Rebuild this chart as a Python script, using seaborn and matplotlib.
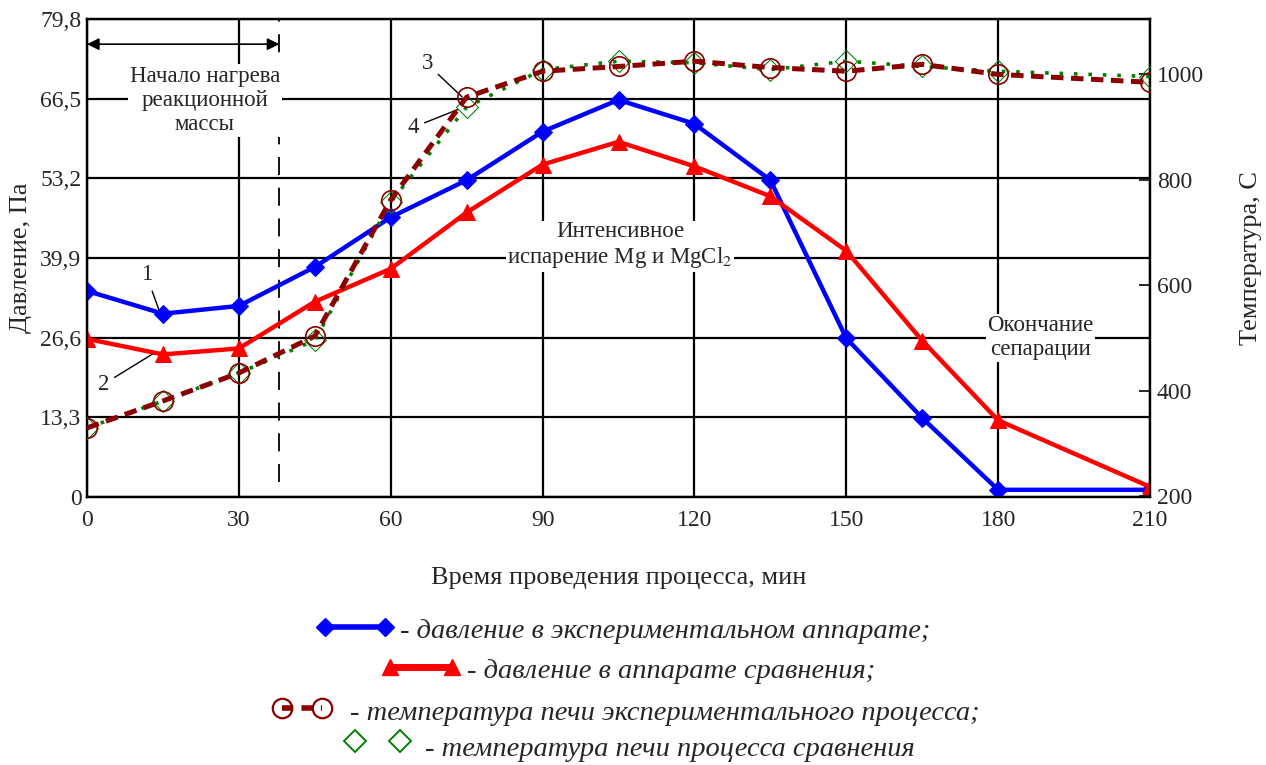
import matplotlib
matplotlib.use("Agg")
import matplotlib.pyplot as plt
import seaborn as sns
import pandas as pd

# время, мин
time = [0, 15, 30, 45, 60, 75, 90, 105, 120, 135, 150, 165, 180, 210]
# давление, Па
p_exp = [34.4, 30.6, 31.9, 38.4, 46.7, 52.9, 61.0, 66.3, 62.3, 52.9, 26.5, 13.2, 1.2, 1.2]
p_cmp = [26.4, 23.8, 24.8, 32.6, 38.1, 47.5, 55.5, 59.3, 55.2, 50.2, 41.1, 26.1, 12.8, 1.7]
# температура печи, C
t_exp = [330, 381, 434, 504, 762, 957, 1006, 1015, 1025, 1013, 1006, 1019, 1000, 985]
t_cmp = [330, 381, 434, 496, 758, 938, 1009, 1025, 1022, 1009, 1025, 1015, 1006, 996]

p_ticks = [0, 13.3, 26.6, 39.9, 53.2, 66.5, 79.8]
t_ticks = [200, 400, 600, 800, 1000]
x_ticks = [0, 30, 60, 90, 120, 150, 180, 210]
heat_end = 38

df = pd.DataFrame({"time": time, "p_exp": p_exp, "p_cmp": p_cmp,
                   "t_exp": t_exp, "t_cmp": t_cmp})

sns.set_style("white")
plt.rcParams["font.family"] = ["Liberation Serif", "DejaVu Serif"]
plt.rcParams["mathtext.fontset"] = "stix"

DARK = "#8b0000"
GREEN = "#008000"

fig = plt.figure(figsize=(12.66, 7.65), dpi=100)
ax = fig.add_axes([87 / 1266, 1 - 497 / 765, (1150 - 87) / 1266, (497 - 19) / 765])
ax2 = ax.twinx()

ax.set_xlim(0, 210)
ax.set_ylim(0, 79.8)
ax2.set_ylim(199, 1105)
ax.set_xticks(x_ticks)
ax.set_yticks(p_ticks)
ax.set_yticklabels([("%g" % v).replace(".", ",") for v in p_ticks])
ax2.set_yticks(t_ticks)
ax.grid(True, color="black", lw=1.6)
ax.set_axisbelow(True)
for a in (ax, ax2):
    for s in a.spines.values():
        s.set_color("black")
        s.set_linewidth(1.6)
ax.tick_params(axis="y", length=0, labelsize=17, pad=4)
ax.tick_params(axis="x", length=0, labelsize=17, pad=9)
ax2.tick_params(axis="y", direction="in", length=8, width=1.4, labelsize=17, pad=5)

# давление
sns.lineplot(data=df, x="time", y="p_exp", ax=ax, color="blue", lw=3.2, marker="D",
             markersize=9, markeredgecolor="blue", zorder=5)
sns.lineplot(data=df, x="time", y="p_cmp", ax=ax, color="red", lw=3.2, marker="^",
             markersize=12, markeredgecolor="red", zorder=5)
# температура
sns.lineplot(data=df, x="time", y="t_cmp", ax=ax2, color=GREEN, lw=2.6, marker="D",
             markersize=11, markerfacecolor="none", markeredgecolor=GREEN,
             linestyle=(0, (1, 3)), zorder=5)
sns.lineplot(data=df, x="time", y="t_exp", ax=ax2, color=DARK, lw=3.6, marker="o",
             markersize=14, markerfacecolor="none", markeredgecolor=DARK,
             markeredgewidth=1.2, linestyle=(0, (2.5, 1.5)), zorder=6)

ax.set_xlabel("Время проведения процесса, мин", fontsize=19, labelpad=26)
ax.set_ylabel("Давление, Па", fontsize=19, labelpad=6)
ax2.set_ylabel("Температура, С", fontsize=19, labelpad=26)

# пояснения
ax.plot([heat_end, heat_end], [2.5, 79.8], color="black", lw=1.3, dashes=(10, 7), zorder=2)
ax.annotate("", xy=(0, 75.6), xytext=(heat_end, 75.6),
            arrowprops=dict(arrowstyle="<|-|>", color="black", lw=1.2,
                            shrinkA=0, shrinkB=0, mutation_scale=18))
box = dict(facecolor="white", edgecolor="none", pad=1)
ax.text(23.3, 66.2, "Начало нагрева\nреакционной\nмассы", ha="center", va="center",
        fontsize=16.5, linespacing=1.2, bbox=box, zorder=3)
ax.text(105.3, 42.0, "Интенсивное\nиспарение Mg и MgCl$_2$", ha="center", va="center",
        fontsize=16.5, linespacing=1.2, bbox=box, zorder=3)
ax.text(188.3, 26.6, "Окончание\nсепарации", ha="center", va="center",
        fontsize=16.5, linespacing=1.2, bbox=box, zorder=3)

leader = dict(arrowstyle="-", color="black", lw=1, shrinkA=2, shrinkB=0)
ax.annotate("1", xy=(14.4, 30.8), xytext=(11.7, 37.1), fontsize=16.5,
            ha="center", va="center", arrowprops=leader)
ax.annotate("2", xy=(13.4, 24.1), xytext=(3.2, 18.8), fontsize=16.5,
            ha="center", va="center", arrowprops=leader)
ax.annotate("3", xy=(74.1, 66.8), xytext=(67.2, 72.3), fontsize=16.5,
            ha="center", va="center", arrowprops=leader)
ax.annotate("4", xy=(73.3, 64.7), xytext=(64.4, 61.7), fontsize=16.5,
            ha="center", va="center", arrowprops=leader)

# легенда внизу
lg = fig.add_axes([0, 0, 1, 1], facecolor="none")
lg.set_xlim(0, 1266)
lg.set_ylim(765, 0)
lg.axis("off")
lg.plot([325, 385], [627, 627], color="blue", lw=4, marker="D", markersize=9)
lg.plot([390, 452], [667, 667], color="red", lw=5, marker="^", markersize=12)
lg.plot([282, 322], [708, 708], color=DARK, lw=4, marker="o", markersize=14,
        markerfacecolor="none", markeredgewidth=1.6, dashes=(2, 1.5))
lg.plot([355, 400], [741, 741], color=GREEN, lw=0, marker="D", markersize=11,
        markerfacecolor="none", markeredgewidth=1.4)
items = [(400, 632, "- давление в экспериментальном аппарате;"),
         (467, 672, "- давление в аппарате сравнения;"),
         (350, 713, "- температура печи экспериментального процесса;"),
         (425, 750, "- температура печи процесса сравнения")]
for x, y, s in items:
    lg.text(x, y, s, fontsize=20.5, style="italic", ha="left", va="center")

fig.savefig("out.png", dpi=100)
